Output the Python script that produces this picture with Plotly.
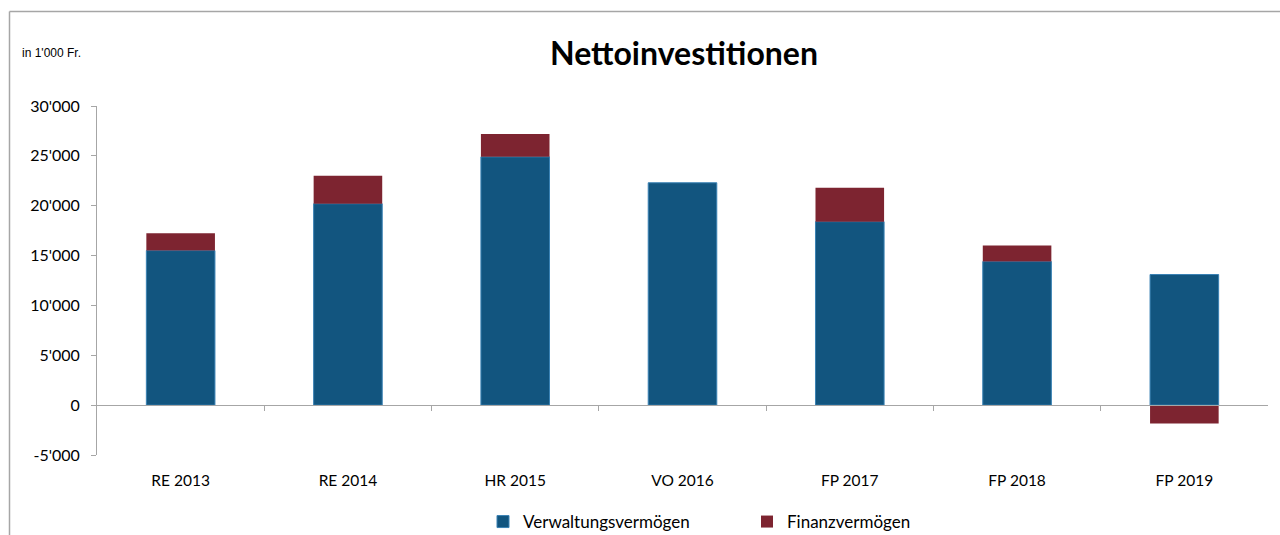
import plotly.graph_objects as go

categories = ["RE 2013", "RE 2014", "HR 2015", "VO 2016", "FP 2017", "FP 2018", "FP 2019"]
verwaltung = [15500, 20200, 24900, 22300, 18400, 14400, 13100]
finanz = [1750, 2800, 2300, 0, 3400, 1600, -1850]
ytick_vals = [-5000, 0, 5000, 10000, 15000, 20000, 25000, 30000]
ytick_text = ["-5'000", "0", "5'000", "10'000", "15'000", "20'000", "25'000", "30'000"]

W, H = 1280, 535
ml, mr, mt, mb = 97, 12, 106, 80
pw, ph = W - ml - mr, H - mt - mb

def px_x(x):
    return (x - ml) / pw

def px_y(y):
    return (H - mb - y) / ph

FONT = "Lato, 'Liberation Sans', sans-serif"

fig = go.Figure()
fig.add_trace(go.Bar(
    x=categories, y=verwaltung, name="Verwaltungsvermögen",
    marker=dict(color="#12557F", line=dict(color="#3A82B4", width=1)),
))
fig.add_trace(go.Bar(
    x=categories, y=finanz, name="Finanzvermögen",
    marker=dict(color="#7D2430", line=dict(width=0)),
))

fig.update_layout(
    width=W, height=H,
    margin=dict(l=ml, r=mr, t=mt, b=mb, autoexpand=False),
    paper_bgcolor="white", plot_bgcolor="white",
    barmode="relative", bargap=0.59,
    font=dict(family=FONT, size=15, color="#000000"),
    title=dict(text="<b>Nettoinvestitionen</b>", x=px_x(684), xref="paper", xanchor="center",
               y=1 - 54 / H, yref="container", yanchor="middle",
               font=dict(size=32, family=FONT, color="#000000")),
    xaxis=dict(type="category", categoryorder="array", categoryarray=categories,
               range=[-0.5, 6.5], showline=False, ticks="", showgrid=False,
               ticklabelstandoff=14, tickfont=dict(size=15.5), automargin=False),
    xaxis2=dict(overlaying="x", anchor="free", position=px_y(405), range=[-0.5, 6.5],
                showline=True, linecolor="#A6A6A6", linewidth=1,
                tickvals=[0.5, 1.5, 2.5, 3.5, 4.5, 5.5], ticks="outside", ticklen=5,
                tickcolor="#A6A6A6", showticklabels=False, showgrid=False, zeroline=False,
                automargin=False),
    yaxis=dict(range=[-5000, 30000], tickvals=ytick_vals, ticktext=ytick_text,
               showline=True, linecolor="#A6A6A6", linewidth=1, ticks="outside",
               ticklen=5, tickcolor="#A6A6A6", showgrid=False, zeroline=False,
               ticklabelstandoff=8, tickfont=dict(size=16), automargin=False),
    legend=dict(orientation="h", x=px_x(483), xanchor="left", y=px_y(522), yanchor="middle",
                font=dict(size=17), itemwidth=30, entrywidth=219, entrywidthmode="pixels",
                traceorder="normal"),
    showlegend=True,
)
# dummy trace to render xaxis2
fig.add_trace(go.Scatter(x=[0], y=[0], xaxis="x2", mode="markers",
                         marker=dict(opacity=0), showlegend=False, hoverinfo="skip"))

fig.add_annotation(text="in 1'000 Fr.", xref="paper", yref="paper",
                   x=px_x(20), y=px_y(53), xanchor="left", yanchor="middle",
                   showarrow=False, font=dict(size=12, family="'Liberation Sans', Arial"))
# outer border (left and top)
fig.add_shape(type="line", xref="paper", yref="paper",
              x0=px_x(9.5), x1=px_x(9.5), y0=px_y(11.5), y1=px_y(540),
              line=dict(color="#A6A6A6", width=1.5))
fig.add_shape(type="line", xref="paper", yref="paper",
              x0=px_x(9.5), x1=px_x(1285), y0=px_y(11.5), y1=px_y(11.5),
              line=dict(color="#A6A6A6", width=1.5))

fig.write_html("out.html", config={"displayModeBar": False},
               post_script="document.body.style.margin='0';")
